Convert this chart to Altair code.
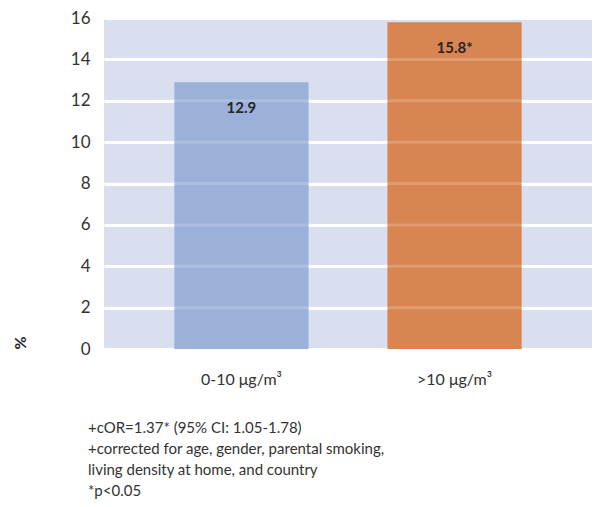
import altair as alt
import pandas as pd

categories = ["0-10 μg/m³", ">10 μg/m³"]
values = [12.9, 15.8]
labels = ["12.9", "15.8*"]
colors = ["#9BB1DA", "#D98552"]
grid_values = [2, 4, 6, 8, 10, 12, 14, 16]
footnote = [
    "+cOR=1.37* (95% CI: 1.05-1.78)",
    "+corrected for age, gender, parental smoking,",
    "living density at home, and country",
    "*p<0.05",
]

df = pd.DataFrame({"cat": categories, "val": values, "lab": labels, "col": colors})
grid_df = pd.DataFrame({"g": grid_values})

FONT = "Lato"

x_enc = alt.X(
    "cat:N",
    sort=categories,
    scale=alt.Scale(paddingInner=0.37, paddingOuter=0.33),
    axis=alt.Axis(
        title=None, labelAngle=0, domain=False, ticks=False, labelPadding=22,
        labelFontSize=16, labelColor="#333333", labelFont=FONT,
    ),
)
y_enc = alt.Y(
    "val:Q",
    scale=alt.Scale(domain=[0, 16], nice=False),
    axis=alt.Axis(
        title="%", titleAngle=-90, titleAnchor="start", titleFontSize=16,
        titleFontWeight="bold", titleColor="#222222", titleFont=FONT, titlePadding=42,
        values=grid_values + [0], labelFontSize=17, labelColor="#333333", labelFont=FONT,
        labelPadding=14, domain=False, ticks=False,
        grid=True, gridColor="white", gridWidth=3,
    ),
)

bars = alt.Chart(df).mark_bar().encode(
    x=x_enc, y=y_enc,
    color=alt.Color("col:N", scale=None),
)

overlay = alt.Chart(grid_df).mark_rule(color="white", strokeWidth=3, opacity=0.18).encode(
    y=alt.Y("g:Q", scale=alt.Scale(domain=[0, 16], nice=False))
)

text = alt.Chart(df).mark_text(
    baseline="middle", dy=26, fontSize=15, fontWeight="bold", color="#262626", font=FONT
).encode(
    x=alt.X("cat:N", sort=categories), y="val:Q", text="lab:N"
)

chart = alt.layer(bars, overlay, text).properties(
    width=488,
    height=331,
    title=alt.TitleParams(
        text=footnote, orient="bottom", anchor="start", frame="group", dx=-16,
        offset=34, fontSize=15, fontWeight="normal", color="#333333", font=FONT,
        lineHeight=21, baseline="top",
    ),
    autosize=alt.AutoSizeParams(type="none"),
    padding={"left": 96, "top": 10, "right": 0, "bottom": 150},
).configure(background="white").configure_view(fill="#D9DFEF", stroke=None)

chart.save("out.html", embed_options={"renderer": "svg", "actions": False})
